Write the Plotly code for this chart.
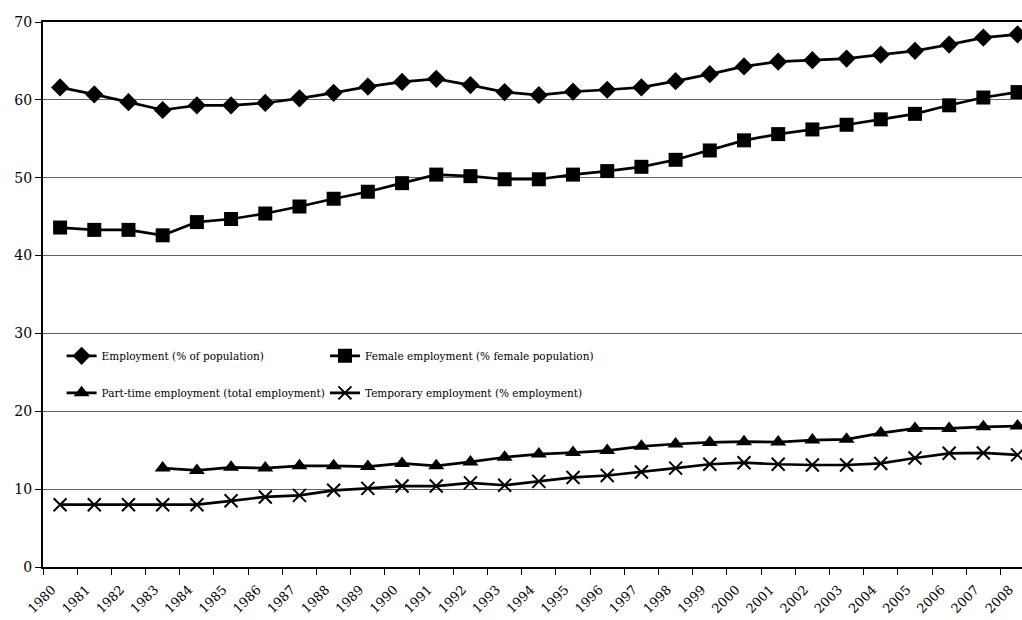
import plotly.graph_objects as go

years = [str(y) for y in range(1980, 2009)]

employment = [61.6, 60.7, 59.7, 58.7, 59.3, 59.3, 59.6, 60.2, 60.9, 61.7,
              62.3, 62.7, 61.9, 61.0, 60.6, 61.05, 61.3, 61.6, 62.4, 63.3,
              64.3, 64.9, 65.1, 65.3, 65.8, 66.3, 67.1, 68.0, 68.4]
female = [43.6, 43.3, 43.3, 42.6, 44.3, 44.7, 45.4, 46.3, 47.3, 48.2,
          49.3, 50.4, 50.2, 49.8, 49.8, 50.4, 50.85, 51.4, 52.3, 53.5,
          54.8, 55.6, 56.2, 56.8, 57.5, 58.2, 59.3, 60.3, 61.0]
part_time = [None, None, None, 12.7, 12.4, 12.8, 12.7, 13.0, 13.0, 12.9,
             13.3, 13.0, 13.5, 14.1, 14.5, 14.7, 14.95, 15.5, 15.8, 16.0,
             16.1, 16.05, 16.3, 16.4, 17.2, 17.8, 17.8, 18.0, 18.1]
temporary = [8.0, 8.0, 8.0, 8.0, 8.0, 8.5, 9.0, 9.2, 9.85, 10.1,
             10.4, 10.4, 10.8, 10.5, 11.0, 11.5, 11.75, 12.2, 12.7, 13.2,
             13.4, 13.2, 13.1, 13.1, 13.3, 14.0, 14.6, 14.65, 14.4]

names = ["Employment (% of population)", "Female employment (% female population)",
         "Part-time employment (total employment)", "Temporary employment (% employment)"]

FONT = "DejaVu Serif"

fig = go.Figure()
series = [
    (employment, names[0], dict(symbol="diamond", size=14, color="black"), "legend"),
    (female, names[1], dict(symbol="square", size=14, color="black"), "legend2"),
    (part_time, names[2], dict(symbol="triangle-up", size=14, color="black"), "legend"),
    (temporary, names[3], dict(symbol="x-thin", size=13, color="black",
                               line=dict(color="black", width=2)), "legend2"),
]
for i, (vals, nm, mk, lg) in enumerate(series):
    fig.add_trace(go.Scatter(
        x=years, y=vals, name=nm, mode="lines+markers",
        line=dict(color="black", width=2.7), marker=mk,
        cliponaxis=False, legend=lg, legendgroup=str(i)))

legend_font = dict(family=FONT, size=10.5)
fig.update_layout(
    width=1022, height=620,
    margin=dict(l=43, r=0, t=22, b=53),
    paper_bgcolor="white", plot_bgcolor="white",
    font=dict(family=FONT, color="black"),
    legend=dict(x=0.019, y=0.414, xanchor="left", yanchor="top",
                font=legend_font, tracegroupgap=18,
                bgcolor="rgba(0,0,0,0)"),
    legend2=dict(x=0.288, y=0.414, xanchor="left", yanchor="top",
                 font=legend_font, tracegroupgap=18,
                 bgcolor="rgba(0,0,0,0)"),
    xaxis=dict(type="category", range=[-0.5, 28.13], tickson="boundaries",
               ticks="outside", ticklen=6, tickcolor="black", tickwidth=1,
               showline=True, linecolor="black", linewidth=2, mirror=True,
               showgrid=False, tickangle=-45, automargin=False,
               ticklabelshift=-8, ticklabelstandoff=8,
               tickfont=dict(family=FONT, size=13)),
    yaxis=dict(range=[0, 70], dtick=10, ticks="outside", ticklen=6,
               tickcolor="black", showline=True, linecolor="black", linewidth=2,
               showgrid=True, gridcolor="#606060", gridwidth=1, zeroline=False,
               automargin=False,
               tickfont=dict(family=FONT, size=14)),
)

fig.write_html("out.html")
